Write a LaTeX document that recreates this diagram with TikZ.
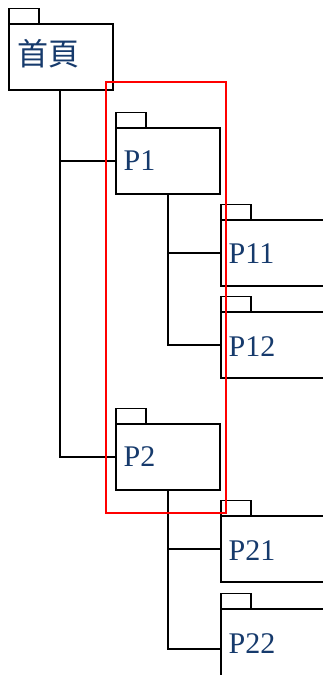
\documentclass[tikz,border=0pt]{standalone}
\usepackage{fontspec}
\setmainfont{Liberation Serif}
\newfontfamily\cjkfont{Noto Sans CJK TC}
\definecolor{txtblue}{RGB}{22,58,108}
\begin{document}
\begin{tikzpicture}[x=1pt,y=-1pt,line width=1.4pt,
  body/.style={draw=black,rectangle,anchor=north west,inner sep=0pt,outer sep=0pt,minimum width=104pt,minimum height=66pt},
  tab/.style={draw=black,rectangle,anchor=south west,inner sep=0pt,outer sep=0pt,minimum width=30pt,minimum height=15.5pt},
  lbl/.style={text=txtblue,font=\fontsize{30}{31}\selectfont,anchor=base west,inner sep=0pt},
  conn/.style={draw=black,line width=1.4pt}]
\useasboundingbox (0,0) rectangle (323,675);
\clip (0,0) rectangle (323,675);
\fill[white] (0,0) rectangle (323,675);
% home
\node[body] (home) at (9,24) {};
\node[tab] (hometab) at (home.north west) {};
\node[text=txtblue,font=\cjkfont\fontsize{31}{32}\selectfont,anchor=center,inner sep=0pt] (homet) at (48.5,54) {首頁};
% P1
\node[body] (p1) at (116,128) {};
\node[tab] (p1tab) at (p1.north west) {};
\node[lbl] (p1t) at (123,170) {P1};
% P11
\node[body,minimum width=120pt] (p11) at (221,220) {};
\node[tab] (p11tab) at (p11.north west) {};
\node[lbl] (p11t) at (228,263) {P11};
% P12
\node[body,minimum width=120pt] (p12) at (221,312) {};
\node[tab] (p12tab) at (p12.north west) {};
\node[lbl] (p12t) at (228,356) {P12};
% P2
\node[body] (p2) at (116,424) {};
\node[tab] (p2tab) at (p2.north west) {};
\node[lbl] (p2t) at (123,466) {P2};
% P21
\node[body,minimum width=120pt] (p21) at (221,516) {};
\node[tab] (p21tab) at (p21.north west) {};
\node[lbl] (p21t) at (228,560) {P21};
% P22
\node[body,minimum width=120pt,minimum height=80pt] (p22) at (221,609) {};
\node[tab] (p22tab) at (p22.north west) {};
\node[lbl] (p22t) at (228,653) {P22};
% connectors
\coordinate (hs) at (60,90);
\draw[conn] (hs) -- (hs |- p2.west) -- (p2.west);
\draw[conn] (hs |- p1.west) -- (p1.west);
\coordinate (p1s) at (p1.south);
\draw[conn] (p1s) -- (p1s |- p12.west) -- (p12.west);
\draw[conn] (p1s |- p11.west) -- (p11.west);
\coordinate (p2s) at (p2.south);
\draw[conn] (p2s) -- (p2s |- p22.west) -- (p22.west);
\draw[conn] (p2s |- p21.west) -- (p21.west);
% group
\node[draw=red,rectangle,anchor=north west,inner sep=0pt,outer sep=0pt,minimum width=120pt,minimum height=431pt,line width=1.4pt] (group) at (106,82) {};
\end{tikzpicture}
\end{document}
